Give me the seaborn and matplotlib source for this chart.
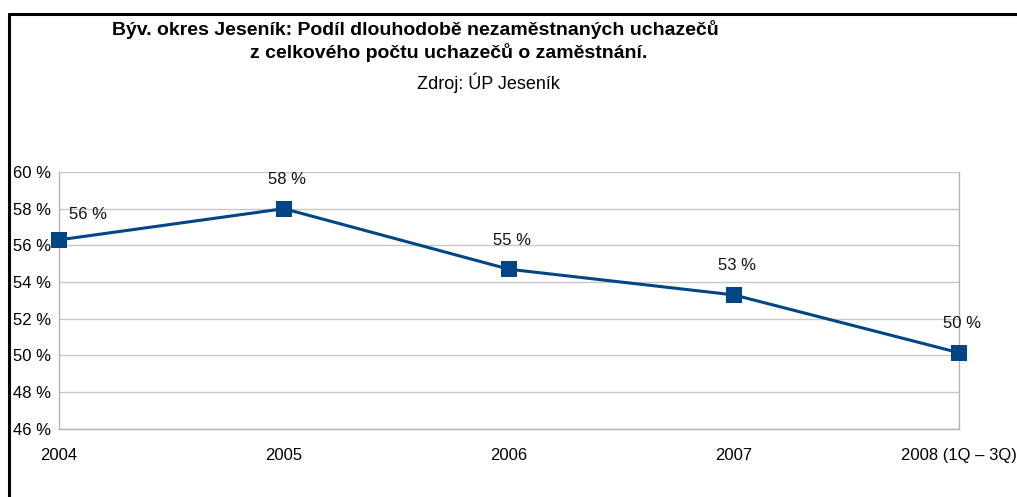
import numpy as np
import pandas as pd
import matplotlib
matplotlib.use("Agg")
import matplotlib.pyplot as plt
from matplotlib.lines import Line2D
import seaborn as sns

# data
years = ['2004', '2005', '2006', '2007', '2008 (1Q – 3Q)']
podil = [56.3, 58.0, 54.7, 53.3, 50.15]
popisky = ['56 %', '58 %', '55 %', '53 %', '50 %']
y_ticks = [46, 48, 50, 52, 54, 56, 58, 60]

sns.set_style('white')
plt.rcParams['font.family'] = ['Liberation Sans', 'DejaVu Sans']
plt.rcParams['text.color'] = 'black'
plt.rcParams['xtick.labelcolor'] = 'black'
plt.rcParams['ytick.labelcolor'] = 'black'

df = pd.DataFrame({'pos': np.arange(len(years)), 'podil': podil})

fig = plt.figure(figsize=(10.17, 4.97), dpi=100)
ax = fig.add_axes([0.058, 0.137, 0.885, 0.517])

sns.lineplot(data=df, x='pos', y='podil', ax=ax, color='#004586',
             linewidth=2.2, marker='s', markersize=11.5, markeredgewidth=0,
             zorder=3, clip_on=False)

ax.set_xlim(0, len(years) - 1)
ax.set_ylim(46, 60)
ax.set_yticks(y_ticks)
ax.set_yticklabels([f'{v} %' for v in y_ticks], fontsize=12)
ax.set_xticks(df['pos'])
ax.set_xticklabels(years, fontsize=12)
ax.set_xlabel('')
ax.set_ylabel('')
ax.grid(axis='y', color='#c8c8c8', linewidth=1)
ax.tick_params(axis='x', length=4, color='#b3b3b3', pad=10)
ax.tick_params(axis='y', length=4, color='#b3b3b3', pad=2)
for s in ['left', 'right', 'bottom']:
    ax.spines[s].set_color('#b3b3b3')
    ax.spines[s].set_linewidth(1)
ax.spines['top'].set_visible(False)

# value labels above points
for i, (v, t) in enumerate(zip(podil, popisky)):
    dx, dy = (21, 18) if i == 0 else (2, 21)
    ax.annotate(t, (i, v), xytext=(dx, dy), textcoords='offset points',
                ha='center', va='center', fontsize=12, color='#111111')

# title block
fig.text(0.408, 0.94, 'Býv. okres Jeseník: Podíl dlouhodobě nezaměstnaných uchazečů',
         ha='center', va='center', fontsize=14, fontweight='bold')
fig.text(0.441, 0.895, 'z celkového počtu uchazečů o zaměstnání.',
         ha='center', va='center', fontsize=14, fontweight='bold')
fig.text(0.48, 0.834, 'Zdroj: ÚP Jeseník', ha='center', va='center', fontsize=13)

# frame around the chart (left and top edges visible)
fig.add_artist(Line2D([0.009, 0.009], [0.0, 0.972], color='black', linewidth=2.2,
                      transform=fig.transFigure))
fig.add_artist(Line2D([0.009, 1.0], [0.972, 0.972], color='black', linewidth=2.2,
                      transform=fig.transFigure))

fig.savefig('out.png', dpi=100)
